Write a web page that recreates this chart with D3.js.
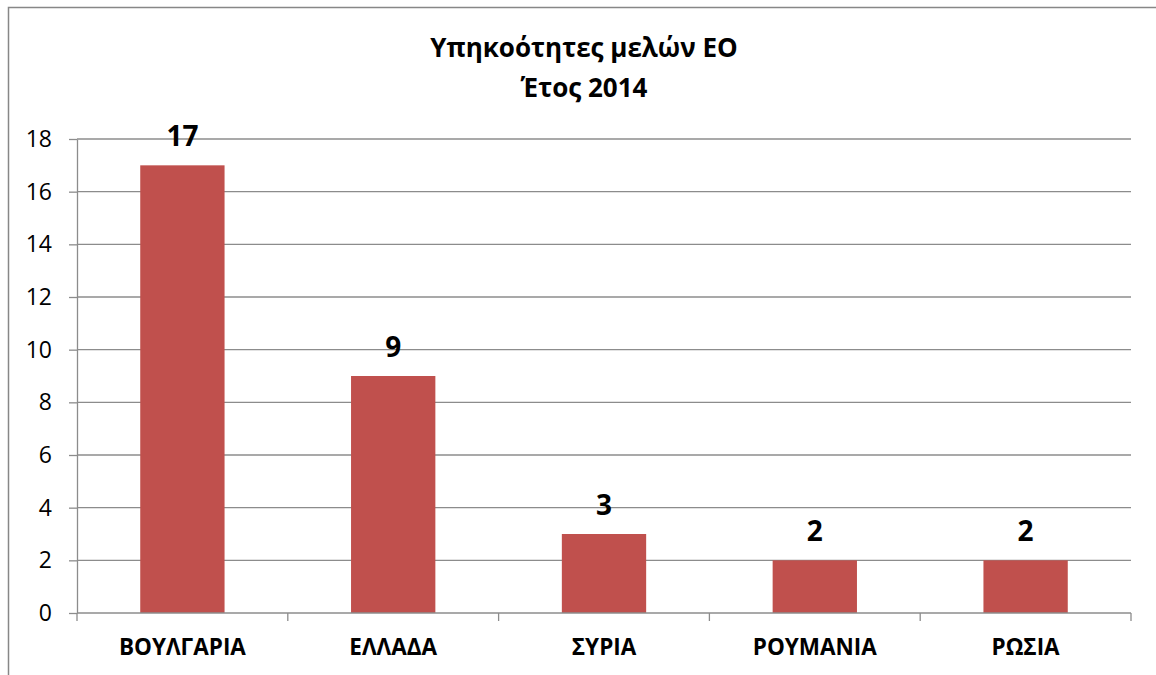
<!DOCTYPE html>
<html><head><meta charset="utf-8">
<script src="https://cdn.jsdelivr.net/npm/d3@7"></script>
<style>html,body{margin:0;padding:0;background:#fff;}svg{display:block;}</style>
</head><body>
<svg id="c" width="1156" height="675"></svg>
<script>
const categories = ["ΒΟΥΛΓΑΡΙΑ", "ΕΛΛΑΔΑ", "ΣΥΡΙΑ", "ΡΟΥΜΑΝΙΑ", "ΡΩΣΙΑ"];
const values = [17, 9, 3, 2, 2];
const yTicks = [0, 2, 4, 6, 8, 10, 12, 14, 16, 18];
const titleLines = ["Υπηκοότητες μελών ΕΟ", "Έτος 2014"];

const svg = d3.select("#c");
const font = "'Open Sans', sans-serif";
const L = 77, R = 1131, T = 139, B = 613;

svg.append("rect").attr("x", 8.5).attr("y", 7.5).attr("width", 1300).attr("height", 800)
  .attr("fill", "#fff").attr("stroke", "#878787").attr("stroke-width", 1.5);

const x = d3.scaleBand().domain(categories).range([L, R]).paddingInner(0.6).paddingOuter(0.3);
const y = d3.scaleLinear().domain([0, 18]).range([B, T]);

// gridlines
svg.append("g").selectAll("line").data(yTicks.filter(d => d > 0)).join("line")
  .attr("x1", L).attr("x2", R).attr("y1", d => y(d)).attr("y2", d => y(d))
  .attr("stroke", "#8c8c8c").attr("stroke-width", 1.3);

// y axis
const ya = svg.append("g").attr("transform", `translate(${L},0)`)
  .call(d3.axisLeft(y).tickValues(yTicks).tickSize(8).tickPadding(17).tickSizeOuter(0));
ya.select(".domain").attr("stroke", "#8c8c8c").attr("stroke-width", 1.3);
ya.selectAll(".tick line").attr("stroke", "#8c8c8c").attr("stroke-width", 1.3);
ya.selectAll(".tick text").attr("font-family", font).attr("font-size", 23).attr("fill", "#000");

// bars
svg.append("g").selectAll("rect").data(values).join("rect")
  .attr("x", (d, i) => x(categories[i])).attr("width", x.bandwidth())
  .attr("y", d => y(d)).attr("height", d => B - y(d)).attr("fill", "#c0504d");

// x axis
const step = x.step();
const boundaries = d3.range(categories.length + 1).map(i => L + i * step);
svg.append("line").attr("x1", L).attr("x2", R).attr("y1", B).attr("y2", B)
  .attr("stroke", "#8c8c8c").attr("stroke-width", 1.5);
svg.append("g").selectAll("line").data(boundaries).join("line")
  .attr("x1", d => d).attr("x2", d => d).attr("y1", B).attr("y2", B + 8)
  .attr("stroke", "#8c8c8c").attr("stroke-width", 1.3);
svg.append("g").selectAll("text").data(categories).join("text")
  .attr("x", d => x(d) + x.bandwidth() / 2).attr("y", 655)
  .attr("text-anchor", "middle").attr("font-family", font).attr("font-weight", 700)
  .attr("font-size", 22.5).text(d => d);

// value labels
svg.append("g").selectAll("text").data(values).join("text")
  .attr("x", (d, i) => x(categories[i]) + x.bandwidth() / 2).attr("y", d => y(d) - 19)
  .attr("text-anchor", "middle").attr("font-family", font).attr("font-weight", 700)
  .attr("font-size", 28).text(d => d);

// title
svg.append("g").selectAll("text").data(titleLines).join("text")
  .attr("x", 584).attr("y", (d, i) => 57 + i * 40)
  .attr("text-anchor", "middle").attr("font-family", font).attr("font-weight", 700)
  .attr("font-size", 26).text(d => d);
</script>
</body></html>
